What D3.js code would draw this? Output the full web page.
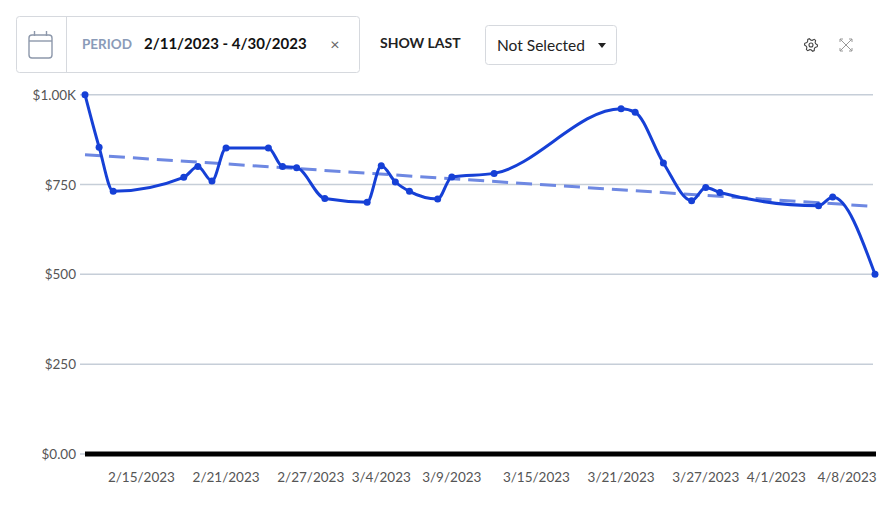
<!DOCTYPE html>
<html>
<head>
<meta charset="utf-8">
<script src="https://cdn.jsdelivr.net/npm/d3@7"></script>
<style>
  body { margin: 0; background: #fff; font-family: Lato, "Noto Sans", sans-serif; }
  svg text { font-family: Lato, "Noto Sans", sans-serif; }
</style>
</head>
<body>
<div id="chart"></div>
<script>
// daily values
var dates = ["2023-02-11","2023-02-12","2023-02-13","2023-02-18","2023-02-19","2023-02-20",
    "2023-02-21","2023-02-24","2023-02-25","2023-02-26","2023-02-28","2023-03-03",
    "2023-03-04","2023-03-05","2023-03-06","2023-03-08","2023-03-09","2023-03-12",
    "2023-03-21","2023-03-22","2023-03-24","2023-03-26","2023-03-27","2023-03-28",
    "2023-04-04","2023-04-05","2023-04-08"];
var values = [1000, 854, 731, 770, 800, 760,
    852, 852, 800, 797, 711, 701,
    802, 757, 731, 710, 771, 781,
    961, 951, 810, 705, 742, 728,
    691, 715, 500];
// trend line value at first and last date
var trendValues = [833, 689];
var tickDates = ["2023-02-15","2023-02-21","2023-02-27","2023-03-04","2023-03-09",
    "2023-03-15","2023-03-21","2023-03-27","2023-04-01","2023-04-08"];
var yTicks = [0, 250, 500, 750, 1000];
var periodLabel = "2/11/2023 - 4/30/2023";

var width = 888, height = 507;
var plotLeft = 85, plotRight = 875, plotTop = 94.7, plotBottom = 454;

var parse = d3.timeParse("%Y-%m-%d");
var fmtDate = d3.timeFormat("%-m/%-d/%Y");

var data = dates.map(function(d, i){ return {date: parse(d), value: values[i]}; });

var svg = d3.select("#chart").append("svg")
    .attr("width", width)
    .attr("height", height);

var x = d3.scaleTime()
    .domain(d3.extent(data, function(d){ return d.date; }))
    .range([plotLeft, plotRight]);

var y = d3.scaleLinear()
    .domain([0, 1000])
    .range([plotBottom, plotTop]);

function yFormat(v){
    if (v >= 1000) return "$" + (v/1000).toFixed(2) + "K";
    if (v === 0) return "$0.00";
    return "$" + v;
}

// ---- toolbar ----
var bar = svg.append("g");
bar.append("rect")
    .attr("x", 16.5).attr("y", 16.5)
    .attr("width", 343).attr("height", 56)
    .attr("rx", 3)
    .attr("fill", "#fff")
    .attr("stroke", "#d6d9de");
bar.append("line")
    .attr("x1", 66.5).attr("x2", 66.5)
    .attr("y1", 17).attr("y2", 72)
    .attr("stroke", "#d6d9de");

// calendar icon
var cal = bar.append("g").attr("stroke", "#8d98ab").attr("fill", "none").attr("stroke-width", 1.4);
cal.append("rect").attr("x", 29).attr("y", 35).attr("width", 23).attr("height", 23).attr("rx", 3);
cal.append("line").attr("x1", 29).attr("x2", 52).attr("y1", 41).attr("y2", 41);
cal.append("line").attr("x1", 34.5).attr("x2", 34.5).attr("y1", 31).attr("y2", 36);
cal.append("line").attr("x1", 46.5).attr("x2", 46.5).attr("y1", 31).attr("y2", 36);

bar.append("text")
    .attr("x", 82).attr("y", 49)
    .attr("font-size", 13.5).attr("font-weight", 700)
    .attr("fill", "#8a9bb8")
    .text("PERIOD");
bar.append("text")
    .attr("x", 144).attr("y", 49)
    .attr("font-size", 15).attr("font-weight", 700)
    .attr("fill", "#111")
    .text(periodLabel);
bar.append("text")
    .attr("x", 335).attr("y", 50)
    .attr("text-anchor", "middle")
    .attr("font-size", 16)
    .attr("fill", "#666")
    .text("\u00d7");

bar.append("text")
    .attr("x", 380).attr("y", 48)
    .attr("font-size", 14).attr("font-weight", 700)
    .attr("fill", "#222")
    .text("SHOW LAST");

bar.append("rect")
    .attr("x", 485.5).attr("y", 25.5)
    .attr("width", 131).attr("height", 39)
    .attr("rx", 3)
    .attr("fill", "#fff")
    .attr("stroke", "#d6d9de");
bar.append("text")
    .attr("x", 497).attr("y", 51)
    .attr("font-size", 15.5)
    .attr("fill", "#222")
    .text("Not Selected");
bar.append("path")
    .attr("d", "M598,43 L606,43 L602,48 Z")
    .attr("fill", "#222");

// gear icon
var gear = bar.append("g").attr("transform", "translate(811,45)");
var gearPts = [];
for (var i = 0; i < 24; i++) {
    var a = i * Math.PI / 12;
    var r = (Math.floor(i / 2) % 2 === 0) ? 6.5 : 4.8;
    gearPts.push([r * Math.cos(a), r * Math.sin(a)]);
}
gear.append("path")
    .attr("d", d3.line().curve(d3.curveLinearClosed)(gearPts))
    .attr("fill", "none").attr("stroke", "#444").attr("stroke-width", 1.1);
gear.append("circle").attr("r", 2).attr("fill", "none").attr("stroke", "#444").attr("stroke-width", 1.1);

// expand icon
var ex = bar.append("g").attr("transform", "translate(846,45)")
    .attr("stroke", "#999").attr("stroke-width", 1).attr("fill", "none");
ex.append("line").attr("x1", -6).attr("y1", -6).attr("x2", 6).attr("y2", 6);
ex.append("line").attr("x1", 6).attr("y1", -6).attr("x2", -6).attr("y2", 6);
[[-1,-1],[1,-1],[-1,1],[1,1]].forEach(function(s){
    ex.append("path").attr("d", "M" + (6*s[0]) + "," + (3*s[1]) + " L" + (6*s[0]) + "," + (6*s[1]) + " L" + (3*s[0]) + "," + (6*s[1]));
});

// ---- grid + y axis ----
var grid = svg.append("g");
grid.selectAll("line.grid")
    .data(yTicks.filter(function(v){ return v > 0; }))
    .enter().append("line")
    .attr("class", "grid")
    .attr("x1", plotLeft - 5).attr("x2", plotRight - 2)
    .attr("y1", function(d){ return y(d); })
    .attr("y2", function(d){ return y(d); })
    .attr("stroke", "#c6ced8")
    .attr("stroke-width", 1.5);

grid.append("line")
    .attr("x1", plotLeft - 5).attr("x2", plotLeft)
    .attr("y1", y(0)).attr("y2", y(0))
    .attr("stroke", "#c6ced8")
    .attr("stroke-width", 1.5);

grid.selectAll("text.ylab")
    .data(yTicks)
    .enter().append("text")
    .attr("class", "ylab")
    .attr("x", plotLeft - 9)
    .attr("y", function(d){ return y(d) + 5; })
    .attr("text-anchor", "end")
    .attr("font-size", 13.5)
    .attr("fill", "#555")
    .text(yFormat);

// x axis labels
svg.selectAll("text.xlab")
    .data(tickDates.map(parse))
    .enter().append("text")
    .attr("class", "xlab")
    .attr("x", function(d){ return Math.min(x(d), plotRight - 28); })
    .attr("y", 482)
    .attr("text-anchor", "middle")
    .attr("font-size", 13.5)
    .attr("fill", "#555")
    .text(fmtDate);

// ---- trend line ----
var trend = [
    {date: data[0].date, value: trendValues[0]},
    {date: data[data.length - 1].date, value: trendValues[1]}
];

var line = d3.line()
    .x(function(d){ return x(d.date); })
    .y(function(d){ return y(d.value); });

svg.append("path")
    .attr("d", line(trend))
    .attr("fill", "none")
    .attr("stroke", "#6e88e2")
    .attr("stroke-width", 3)
    .attr("stroke-dasharray", "16,8");

// ---- series ----
svg.append("path")
    .attr("d", line.curve(d3.curveMonotoneX)(data))
    .attr("fill", "none")
    .attr("stroke", "#1640d6")
    .attr("stroke-width", 3);

svg.selectAll("circle.pt")
    .data(data)
    .enter().append("circle")
    .attr("class", "pt")
    .attr("cx", function(d){ return x(d.date); })
    .attr("cy", function(d){ return y(d.value); })
    .attr("r", 3.5)
    .attr("fill", "#1640d6");

// zero baseline
svg.append("line")
    .attr("x1", plotLeft).attr("x2", plotRight + 1)
    .attr("y1", y(0)).attr("y2", y(0))
    .attr("stroke", "#000")
    .attr("stroke-width", 5);
</script>
</body>
</html>
